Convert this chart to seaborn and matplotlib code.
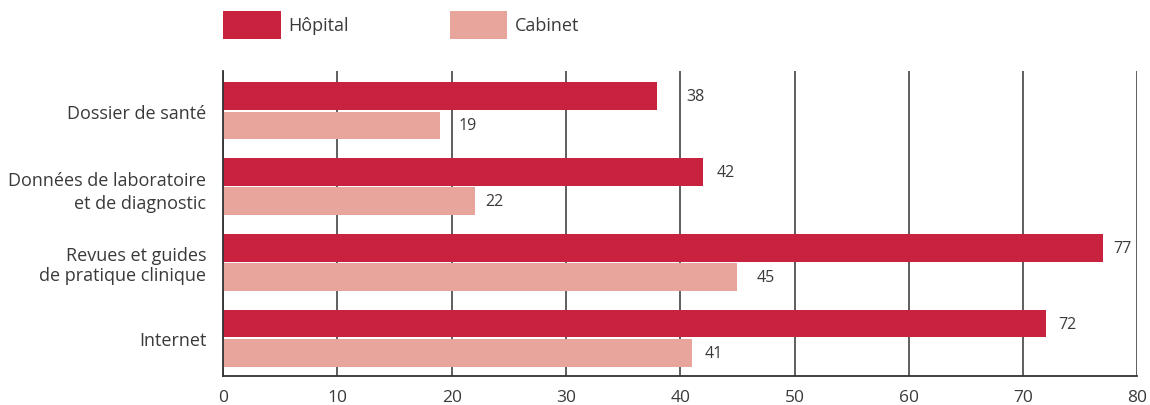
import pandas as pd
import matplotlib
matplotlib.use("Agg")
import matplotlib.pyplot as plt
import seaborn as sns

categories = [
    "Dossier de santé",
    "Données de laboratoire\net de diagnostic",
    "Revues et guides\nde pratique clinique",
    "Internet",
]
hopital = [38, 42, 77, 72]
cabinet = [19, 22, 45, 41]
series = ["Hôpital", "Cabinet"]

pal = {"Hôpital": "#C8223F", "Cabinet": "#E8A59B"}
text_col = "#3a3a3a"
line_col = "#333333"

df = pd.DataFrame({
    "cat": categories * 2,
    "val": hopital + cabinet,
    "serie": [series[0]] * len(categories) + [series[1]] * len(categories),
})

sns.set_style("white")
plt.rcParams["font.family"] = ["Open Sans", "DejaVu Sans"]
plt.rcParams["text.color"] = text_col

fig = plt.figure(figsize=(11.5, 4.06), dpi=100)
ax = fig.add_axes([0.194, 0.0714, 0.795, 0.752])

sns.barplot(
    data=df, x="val", y="cat", hue="serie", order=categories,
    hue_order=series, palette=pal, orient="h", width=0.77, gap=0.05,
    saturation=1, linewidth=0, ax=ax, legend=False,
)

ax.set_xlim(0, 80)
ax.set_ylim(3.5, -0.53)
ax.set_xticks(range(0, 81, 10))
ax.set_xlabel("")
ax.set_ylabel("")
ax.grid(axis="x", color=line_col, linewidth=1.1)
ax.set_axisbelow(True)
for side in ["top", "right"]:
    ax.spines[side].set_visible(False)
for side in ["left", "bottom"]:
    ax.spines[side].set_color(line_col)
    ax.spines[side].set_linewidth(1.3)
ax.tick_params(axis="x", length=0, pad=9, labelsize=12.5, labelcolor=text_col)
ax.tick_params(axis="y", length=0, pad=12, labelsize=13, labelcolor=text_col)
# the lab label is a bit more spread out than the others
ax.get_yticklabels()[1].set_linespacing(1.35)
ax.get_yticklabels()[2].set_linespacing(1.1)

# value labels (offsets in points, as in the original)
offsets = [[21, 10, 7, 9], [13, 8, 14, 9]]
for k, cont in enumerate(ax.containers):
    for j, bar in enumerate(cont):
        ax.annotate(
            f"{bar.get_width():.0f}",
            xy=(bar.get_width(), bar.get_y() + bar.get_height() / 2),
            xytext=(offsets[k][j], 0), textcoords="offset points",
            ha="left", va="center", fontsize=11.5, color=text_col,
        )

handles = [plt.Rectangle((0, 0), 1, 1, facecolor=pal[s], linewidth=0) for s in series]
leg = ax.legend(
    handles, series,
    loc="lower left", bbox_to_anchor=(0, 1.105), ncol=2, frameon=False,
    fontsize=13, handlelength=3.2, handleheight=2.0, handletextpad=0.4,
    columnspacing=5.6, borderpad=0, borderaxespad=0,
)
for t in leg.get_texts():
    t.set_color(text_col)

fig.savefig("out.png", dpi=100)
